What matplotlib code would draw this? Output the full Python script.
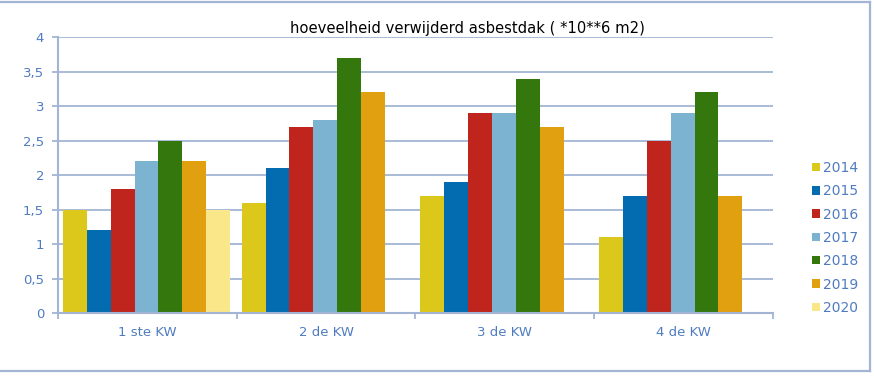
import numpy as np
import matplotlib.pyplot as plt
from matplotlib.lines import Line2D

# data
kwartalen = ["1 ste KW", "2 de KW", "3 de KW", "4 de KW"]
jaren = ["2014", "2015", "2016", "2017", "2018", "2019", "2020"]
v2014 = [1.5, 1.6, 1.7, 1.1]
v2015 = [1.2, 2.1, 1.9, 1.7]
v2016 = [1.8, 2.7, 2.9, 2.5]
v2017 = [2.2, 2.8, 2.9, 2.9]
v2018 = [2.5, 3.7, 3.4, 3.2]
v2019 = [2.2, 3.2, 2.7, 1.7]
v2020 = [1.5, np.nan, np.nan, np.nan]
kleuren = ["#dcc81a", "#036bb0", "#bf241d", "#7cb3d0", "#33770d", "#e0a00f", "#f9e78a"]

as_kleur = "#a3b5d6"
tekst_kleur = "#4f7cc0"

fig = plt.figure(figsize=(8.74, 3.76), dpi=100)
ax = fig.add_axes([0.0664, 0.1668, 0.818, 0.734])

reeksen = [v2014, v2015, v2016, v2017, v2018, v2019, v2020]
x = np.arange(len(kwartalen))
breedte = 0.1335
for i, (waarden, kleur, jaar) in enumerate(zip(reeksen, kleuren, jaren)):
    ax.bar(x + (i - 3) * breedte - 0.005, waarden, breedte, color=kleur, label=jaar, zorder=3)

ax.set_xlim(-0.5, 3.5)
ax.set_ylim(0, 4)
ax.set_yticks(np.arange(0, 4.01, 0.5))
ax.set_yticklabels(["0", "0,5", "1", "1,5", "2", "2,5", "3", "3,5", "4"])
ax.set_xticks(x)
ax.set_xticklabels(kwartalen)
ax.set_xticks(np.arange(-0.5, 3.6, 1), minor=True)
ax.tick_params(axis="x", which="major", length=0, pad=9, labelsize=9.5, labelcolor=tekst_kleur)
ax.tick_params(axis="x", which="minor", length=4, width=1.3, color=as_kleur)
ax.tick_params(axis="y", length=4, width=1.3, color=as_kleur, labelsize=9.5,
               labelcolor=tekst_kleur, pad=6)

ax.grid(axis="y", color=as_kleur, linewidth=1.3, zorder=0)
for s in ["top", "right"]:
    ax.spines[s].set_visible(False)
for s in ["left", "bottom"]:
    ax.spines[s].set_color(as_kleur)
    ax.spines[s].set_linewidth(1.5)
    ax.spines[s].set_zorder(4)

fig.text(0.535, 0.925, "hoeveelheid verwijderd asbestdak ( *10**6 m2)",
         ha="center", va="center", fontsize=10.6, color="black")

ax.legend(loc="upper left", bbox_to_anchor=(1.047, 0.572), frameon=False,
          fontsize=10, handlelength=0.55, handleheight=0.55, handletextpad=0.25,
          labelspacing=0.67, labelcolor=tekst_kleur, borderaxespad=0)

# rand rond de figuur (boven, rechts, onder)
rx, ty, by = 0.9949, 0.996, 0.012
for xs, ys in [([0, rx], [ty, ty]), ([rx, rx], [ty, by]), ([0, rx], [by, by])]:
    fig.add_artist(Line2D(xs, ys, transform=fig.transFigure, color=as_kleur, linewidth=1.6))

plt.savefig("out.png", dpi=100)
